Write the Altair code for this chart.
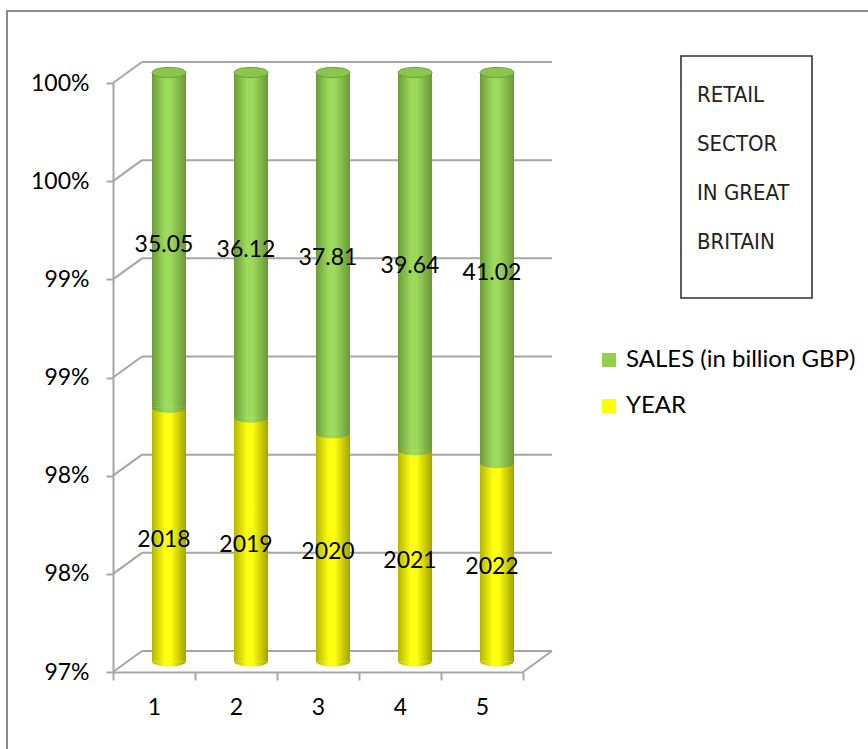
import altair as alt
import pandas as pd

# ---- data ----
categories = [1, 2, 3, 4, 5]
years = [2018, 2019, 2020, 2021, 2022]
sales = [35.05, 36.12, 37.81, 39.64, 41.02]
series_names = ["SALES (in billion GBP)", "YEAR"]
series_colors = ["#92D050", "#FFFF00"]
y_ticks = [0.97, 0.975, 0.98, 0.985, 0.99, 0.995, 1.0]
title_lines = ["RETAIL", "SECTOR", "IN GREAT", "BRITAIN"]

Y_MIN, Y_MAX = 0.97, 1.0

rows = []
for c, yv, sv in zip(categories, years, sales):
    tot = yv + sv
    rows.append(dict(cat=c, series="YEAR", lo=0.0, hi=yv / tot, label=str(yv)))
    rows.append(dict(cat=c, series="SALES (in billion GBP)", lo=yv / tot, hi=1.0, label=f"{sv:.2f}"))
df = pd.DataFrame(rows)
ticks_df = pd.DataFrame({"v": y_ticks})
floor_df = pd.DataFrame({"v": [Y_MIN]})

# ---- layout ----
W, H = 410, 589
DX, DY = 29, -21       # depth of the 3-D box
BX, BY = 15, -10.5     # cylinders sit in the middle of the depth
BAR_W = 34
GRID = "#A6A6A6"
FONT = "Lato"
FS = 23

yscale = alt.Scale(domain=[Y_MIN, Y_MAX], clamp=True, nice=False, zero=False)
xscale = alt.Scale(type="band", paddingInner=0, paddingOuter=0)
yax = alt.Axis(values=y_ticks, format=".0%", title=None, grid=False, tickSize=7,
               labelPadding=17, domainColor=GRID, domainWidth=2, tickColor=GRID, tickWidth=2,
               labelFontSize=FS, labelFont=FONT, labelColor="black")
xax = alt.Axis(title=None, labelAngle=0, grid=False, tickBand="extent", tickSize=8,
               labelPadding=16, domainColor=GRID, domainWidth=2, tickColor=GRID, tickWidth=2,
               labelFontSize=FS, labelFont=FONT, labelColor="black")


def grad(edge_l, mid, edge_r):
    return alt.Gradient(
        gradient="linear", x1=0, x2=1, y1=0, y2=0,
        stops=[alt.GradientStop(color=edge_l, offset=0),
               alt.GradientStop(color=mid, offset=0.38),
               alt.GradientStop(color=mid, offset=0.55),
               alt.GradientStop(color=edge_r, offset=1)])


grads = {
    "YEAR": grad("#B5B500", "#FFFF10", "#A3A300"),
    "SALES (in billion GBP)": grad("#6C9C38", "#9CDA5C", "#6A9836"),
}

# frame
border = alt.Chart(floor_df).mark_rect(fillOpacity=0, stroke="#8C8C8C", strokeWidth=2).encode(
    x=alt.value(-106), x2=alt.value(W + 400), y=alt.value(-72), y2=alt.value(H + 200))

grid = alt.Chart(ticks_df).mark_rule(color=GRID, strokeWidth=2, yOffset=DY).encode(
    x=alt.value(DX), x2=alt.value(W + DX), y=alt.Y("v:Q", scale=yscale, axis=yax))

diag = alt.Chart(ticks_df).mark_rule(color=GRID, strokeWidth=2, y2Offset=DY).encode(
    x=alt.value(0), x2=alt.value(DX), y=alt.Y("v:Q", scale=yscale, axis=yax), y2="v:Q")

rdiag = alt.Chart(floor_df).mark_rule(color=GRID, strokeWidth=2, y2Offset=DY).encode(
    x=alt.value(W), x2=alt.value(W + DX), y=alt.Y("v:Q", scale=yscale, axis=yax), y2="v:Q")

# flat bars (carry the legend), covered by the shaded cylinders
legend_bars = alt.Chart(df).mark_bar(size=BAR_W, xOffset=BX, yOffset=BY, y2Offset=BY).encode(
    x=alt.X("cat:O", scale=xscale, axis=xax),
    y=alt.Y("lo:Q", scale=yscale, axis=yax), y2="hi:Q",
    color=alt.Color("series:N", scale=alt.Scale(domain=series_names, range=series_colors),
                    legend=alt.Legend(orient="none", legendX=484, legendY=265, title=None,
                                      symbolType="square", symbolSize=196, symbolStrokeWidth=0,
                                      labelFontSize=24, labelFont=FONT, labelColor="black",
                                      labelLimit=0, rowPadding=22, labelOffset=5, padding=0)))

ELLIPSE = "M-1,0A1,0.3,0,1,1,1,0A1,0.3,0,1,1,-1,0Z"
LOWER_HALF = "M-1,0A1,0.3,0,0,0,1,0Z"

layers = [border, grid, diag, rdiag, legend_bars]
for s in ["YEAR", "SALES (in billion GBP)"]:
    base = alt.Chart(df).transform_filter(alt.datum.series == s)
    layers.append(base.mark_bar(size=BAR_W, xOffset=BX, yOffset=BY, y2Offset=BY,
                                fill=grads[s], strokeWidth=0).encode(
        x=alt.X("cat:O", scale=xscale, axis=xax),
        y=alt.Y("lo:Q", scale=yscale, axis=yax), y2="hi:Q"))
    # rounded lower edge of each segment
    layers.append(base.mark_point(shape=LOWER_HALF, size=BAR_W * BAR_W, filled=True,
                                  fill=grads[s], strokeWidth=0, opacity=1,
                                  xOffset=BX, yOffset=BY).encode(
        x=alt.X("cat:O", scale=xscale, axis=xax),
        y=alt.Y("lo:Q", scale=yscale, axis=yax)))

tops = alt.Chart(df).transform_filter(alt.datum.series == "SALES (in billion GBP)").mark_point(
    shape=ELLIPSE, size=BAR_W * BAR_W, filled=True, fill="#8AC64B", stroke="#6E9E3A",
    strokeWidth=1, opacity=1, xOffset=BX, yOffset=BY).encode(
    x=alt.X("cat:O", scale=xscale, axis=xax),
    y=alt.Y("hi:Q", scale=yscale, axis=yax))

texts = alt.Chart(df).transform_calculate(
    mid=f"(max(datum.lo, {Y_MIN}) + datum.hi) / 2").mark_text(
    font=FONT, fontSize=FS, color="black", baseline="middle", xOffset=10, yOffset=-5.5).encode(
    x=alt.X("cat:O", scale=xscale, axis=xax),
    y=alt.Y("mid:Q", scale=yscale, axis=yax),
    text="label:N")

title_box = alt.Chart(floor_df).mark_rect(fillOpacity=0, stroke="#333333", strokeWidth=1.6).encode(
    x=alt.value(568), x2=alt.value(699), y=alt.value(-27), y2=alt.value(215))

title_text = alt.Chart(floor_df).mark_text(
    text=title_lines, align="left", baseline="middle", lineHeight=49,
    font="Liberation Sans Narrow, DejaVu Sans Condensed, sans-serif", fontSize=22,
    color="#222222").encode(x=alt.value(584), y=alt.value(12))

layers += [tops, texts, title_box, title_text]

chart = alt.layer(*layers).properties(
    width=W, height=H,
    padding={"left": 113, "top": 83, "right": 345, "bottom": 77},
    autosize=alt.AutoSizeParams(type="none"),
    background="white",
).configure_view(stroke=None)

chart.save("out.html", embed_options={"renderer": "svg", "actions": False})
